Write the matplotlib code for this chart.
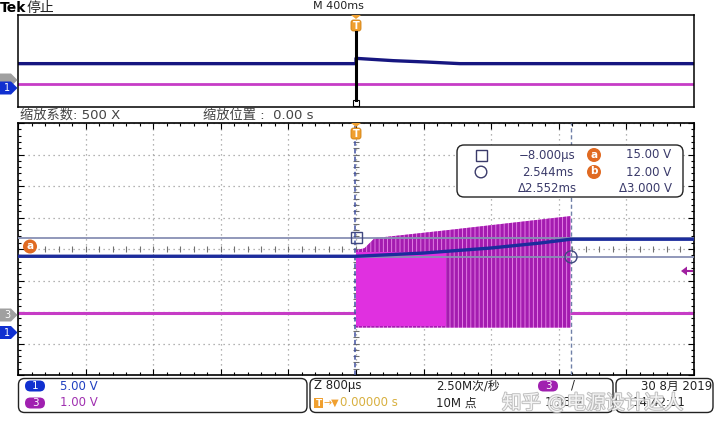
import numpy as np
import matplotlib.pyplot as plt
from matplotlib.patches import FancyBboxPatch, Polygon, Circle, Rectangle
import matplotlib.patheffects as pe

plt.rcParams['font.family'] = ['DejaVu Sans', 'Noto Sans CJK SC']
plt.rcParams['hatch.linewidth'] = 2.4

W, H = 720, 432

# ==================================================
# DATA
# ==================================================
# zoom window: time in ms (800 us/div), ch1 5 V/div, ch3 1 V/div
ch1_t = [-4.0, 0.0, 0.79, 1.59, 2.18, 2.54, 4.0]
ch1_v = [12.1, 12.1, 12.6, 13.4, 14.2, 14.8, 14.8]

ch3_pre_t = [-4.0, 0.0]
ch3_post_t = [2.54, 4.0]
ch3_idle = 0.06

burst_t = [0.0, 0.10, 0.22, 1.07, 2.54]
burst_top = [2.06, 2.12, 2.44, 2.69, 3.14]
burst_low = -0.40
dense_t = [0.0, 1.07]
dense_top = [2.0, 2.0]

# cursors
cur_t = [-0.008, 2.544]   # ms
cur_v = [15.0, 12.0]      # V (ch1)

# overview window: time in s (400 ms/div)
ov_t = [-2.0, 0.0, 0.0, 0.22, 0.42, 0.615, 2.0]
ov_v1 = [12.1, 12.1, 14.4, 13.4, 12.8, 12.1, 12.1]
ov_t3 = [-2.0, 2.0]

# channel offsets in divisions
OFF1 = -2.65
OFF3 = -2.095


def d1(v):
    return np.asarray(v) / 5.0 + OFF1


def d3(v):
    return np.asarray(v) / 1.0 + OFF3


def rect(l, t, r, b):
    return [l / W, 1 - b / H, (r - l) / W, (b - t) / H]


BLUE = '#1c2c9c'
NAVY = '#161680'
MAG = '#c63cc6'
ORANGE = '#e06a22'
TXT = '#3a3a6a'

fig = plt.figure(figsize=(7.2, 4.32), dpi=100)
fig.patch.set_facecolor('white')

# ==================================================
# OVERVIEW PANEL
# ==================================================
ov = fig.add_axes(rect(18, 15, 694, 107))
ov.set_xlim(-2, 2)
ov.set_ylim(-4, 4)
ov.set_xticks([])
ov.set_yticks([])
for s in ov.spines.values():
    s.set_linewidth(1.1)
ov.plot(ov_t3, d3([ch3_idle, ch3_idle]), color=MAG, lw=2.0)
ov.plot(ov_t, d1(ov_v1), color=NAVY, lw=2.4)

# ==================================================
# ZOOM PANEL
# ==================================================
ax = fig.add_axes(rect(18, 123, 694, 375))
ax.set_xlim(-4, 4)
ax.set_ylim(-4, 4)
ax.set_xticks(np.arange(-4, 4.01, 0.8))
ax.set_yticks(np.arange(-4, 4.01, 1.0))
ax.set_xticks(np.arange(-4, 4.01, 0.16), minor=True)
ax.set_yticks(np.arange(-4, 4.01, 0.2), minor=True)
ax.tick_params(which='both', direction='in', top=True, right=True,
               labelbottom=False, labelleft=False, color='k', width=0.8)
ax.tick_params(which='major', length=4)
ax.tick_params(which='minor', length=2.5)
for s in ax.spines.values():
    s.set_linewidth(1.2)
ax.grid(which='major', color='#9a9a9a', linestyle=(0, (1, 3)), lw=0.9)

# centre cross-hair ticks
mx = np.arange(-4, 4.01, 0.16)
my = np.arange(-4, 4.01, 0.2)
ax.plot(mx, np.zeros_like(mx), ls='none', marker='|', ms=4, color='#707070', mew=0.8)
ax.plot(np.zeros_like(my), my, ls='none', marker='_', ms=4, color='#707070', mew=0.8)

# ch3 idle and switching burst
ax.plot(ch3_pre_t, d3([ch3_idle, ch3_idle]), color=MAG, lw=2.2)
ax.plot(ch3_post_t, d3([ch3_idle, ch3_idle]), color=MAG, lw=2.2)
ax.fill_between(burst_t, d3(burst_low), d3(burst_top), facecolor='#ec8cec',
                edgecolor='#a41cb0', hatch='||||', linewidth=0, zorder=3)
ax.fill_between(dense_t, d3(burst_low) + 0.05, d3(dense_top), color='#e030e0',
                linewidth=0, zorder=3)

# cursors
for v in cur_v:
    ax.axhline(d1(v), color='#8890b4', lw=1.3, zorder=4)
ax.axvline(cur_t[0], color='#4050a0', lw=1.1, ls=(0, (3, 2)), zorder=4)
ax.axvline(cur_t[1], color='#7080a8', lw=1.0, ls=(0, (3, 2)), zorder=4)

# ch1
ax.plot(ch1_t, d1(ch1_v), color=BLUE, lw=2.4, zorder=5)

# ==================================================
# OVERLAY (markers, readouts, labels) in pixel units
# ==================================================
top = fig.add_axes([0, 0, 1, 1], zorder=10)
top.set_xlim(0, W)
top.set_ylim(H, 0)
top.axis('off')
top.patch.set_alpha(0)


def chan_marker(y, label, color):
    top.add_patch(Polygon([(0, y - 6.5), (11, y - 6.5), (17.5, y), (11, y + 6.5), (0, y + 6.5)],
                          closed=True, fc=color, ec='none'))
    if label:
        top.text(7, y, label, color='white', fontsize=7, ha='center', va='center')


def trig_marker(x, y0):
    top.add_patch(Polygon([(x - 5, y0), (x + 5, y0), (x, y0 + 4)], closed=True,
                          fc='#f0a030', ec='none'))
    top.add_patch(FancyBboxPatch((x - 5, y0 + 5), 10, 11,
                                 boxstyle='round,pad=0,rounding_size=2.5',
                                 fc='#f0a030', ec='#d08010', lw=0.6))
    top.text(x, y0 + 10.8, 'T', color='white', fontsize=7, fontweight='bold',
             ha='center', va='center')


def letter_dot(x, y, ch):
    top.add_patch(Circle((x, y), 7, fc=ORANGE, ec='none'))
    top.text(x, y - 0.5, ch, color='white', fontsize=7.5, fontweight='bold',
             ha='center', va='center')


def pill(x, y, label, color):
    top.add_patch(FancyBboxPatch((x - 10, y - 5.5), 20, 11,
                                 boxstyle='round,pad=0,rounding_size=5.5',
                                 fc=color, ec='none'))
    top.text(x, y, label, color='white', fontsize=7.5, ha='center', va='center')


# header
top.text(0, 8, 'Tek', fontsize=10, fontweight='bold', va='center', ha='left')
top.text(27, 8, '停止', fontsize=10, va='center', ha='left', color='#222222')
top.text(313, 6, 'M 400ms', fontsize=8, va='center', ha='left', color='#222222')

# overview decorations
chan_marker(80, None, '#a0a0a0')
chan_marker(88, '1', '#1030d0')
trig_marker(356, 15)
top.plot([356, 356], [32, 100], color='k', lw=2.2)
top.add_patch(Rectangle((352.5, 100), 6, 5.5, fc='white', ec='k', lw=0.8))

top.text(20, 115, '缩放系数: 500 X', fontsize=9.5, va='center', ha='left', color='#444444')
top.text(203, 115, '缩放位置 :  0.00 s', fontsize=9.5, va='center', ha='left', color='#444444')

# zoom-panel decorations
trig_marker(356, 123)
chan_marker(315, '3', '#a0a0a0')
chan_marker(332.5, '1', '#1030d0')
letter_dot(30, 246.5, 'a')
top.add_patch(Rectangle((350.5, 232), 11, 11, fc='none', ec='#404880', lw=1.0))
top.add_patch(Circle((571, 256.9), 6, fc='none', ec='#404880', lw=1.0))
top.add_patch(Polygon([(681, 271), (687, 266.5), (687, 275.5)], closed=True,
                      fc='#a020a0', ec='none'))
top.plot([686, 692], [271, 271], color='#a020a0', lw=1.5)

# cursor readout
top.add_patch(FancyBboxPatch((457, 145), 226, 52, boxstyle='round,pad=0,rounding_size=7',
                             fc='white', ec='#222222', lw=1.0))
top.add_patch(Rectangle((475.5, 149.5), 11, 11, fc='none', ec=TXT, lw=1.0))
top.add_patch(Circle((481, 172), 5.8, fc='none', ec=TXT, lw=1.0))
top.text(576, 155, '−8.000µs', fontsize=8.5, color=TXT, ha='right', va='center')
top.text(573, 172, '2.544ms', fontsize=8.5, color=TXT, ha='right', va='center')
top.text(577, 189, 'Δ2.552ms', fontsize=8.5, color=TXT, ha='right', va='center')
letter_dot(594, 155, 'a')
letter_dot(594, 172, 'b')
top.text(671, 155, '15.00 V', fontsize=8.5, color=TXT, ha='right', va='center')
top.text(671, 172, '12.00 V', fontsize=8.5, color=TXT, ha='right', va='center')
top.text(672, 189, 'Δ3.000 V', fontsize=8.5, color=TXT, ha='right', va='center')

# bottom status bar
for (l, r) in [(18.5, 307), (310, 613), (616, 713)]:
    top.add_patch(FancyBboxPatch((l, 378.5), r - l, 34, boxstyle='round,pad=0,rounding_size=6',
                                 fc='white', ec='#222222', lw=1.0))
pill(35, 386, '1', '#1030d0')
pill(35, 403, '3', '#a020b0')
top.text(60, 386, '5.00 V', fontsize=8.5, color='#2040c0', va='center', ha='left')
top.text(60, 403, '1.00 V', fontsize=8.5, color='#a030b0', va='center', ha='left')

top.text(314, 386, 'Z 800µs', fontsize=8.5, color='#222222', va='center', ha='left')
top.add_patch(Rectangle((314, 398), 9, 10, fc='#f0a030', ec='none'))
top.text(318.5, 403, 'T', fontsize=6.5, color='white', fontweight='bold', ha='center', va='center')
top.text(324, 403, '→▼', fontsize=7, color='#f0a030', va='center', ha='left')
top.text(340, 403, '0.00000 s', fontsize=8.5, color='#d8b040', va='center', ha='left')
top.text(436, 386, '2.50M次/秒', fontsize=8.5, color='#222222', va='center', ha='left')
top.text(436, 403, '10M 点', fontsize=8.5, color='#222222', va='center', ha='left')
pill(548, 386, '3', '#a020b0')
top.text(573, 385, '/', fontsize=8.5, color='#222222', va='center', ha='center')
top.text(545, 403, '1.33 V', fontsize=8.5, color='#222222', va='center', ha='left')

top.text(712, 386, '30 8月 2019', fontsize=8.5, color='#222222', va='center', ha='right')
top.text(633, 403, '14:42:51', fontsize=8.5, color='#222222', va='center', ha='left')

# watermark
top.text(502, 403, '知乎 @电源设计达人', fontsize=14, color='white', va='center', ha='left',
         alpha=0.85, path_effects=[pe.withStroke(linewidth=1.4, foreground='#b4b4b4')])

fig.savefig('out.png', dpi=100)
